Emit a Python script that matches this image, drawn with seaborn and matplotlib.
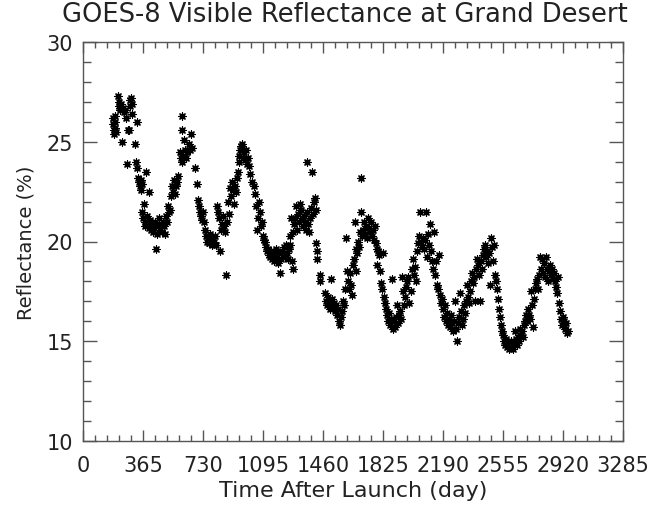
import pandas as pd
import matplotlib
matplotlib.use('Agg')
import matplotlib.pyplot as plt
import seaborn as sns
from matplotlib.ticker import MultipleLocator

# Observations (day after launch, reflectance %) grouped by roughly one year each
year1 = [(182, 26.2), (185, 25.9), (188, 25.6), (190, 25.4), (192, 26.0), (195, 25.7), (197, 26.3), (200, 25.5),
         (213, 27.3), (218, 27.0), (222, 26.8), (225, 26.7), (228, 26.6), (232, 26.9), (237, 25.0), (245, 26.7),
         (250, 26.5), (255, 26.6), (262, 26.2), (268, 23.9), (272, 25.6), (280, 25.6), (285, 27.1), (288, 26.8),
         (292, 27.2), (296, 26.4), (300, 26.9), (316, 24.9), (322, 24.0), (328, 26.0), (330, 23.7), (335, 23.2),
         (340, 23.0), (345, 22.8), (350, 23.1), (355, 22.6), (358, 22.9), (383, 23.5), (401, 22.5), (360, 21.5),
         (371, 21.9), (365, 21.2), (375, 21.0), (380, 20.8), (390, 21.3), (395, 21.0), (400, 20.7), (408, 21.1),
         (414, 20.6), (420, 20.9), (425, 20.5), (432, 20.7), (438, 21.0), (444, 19.6), (450, 20.4), (456, 20.8),
         (462, 21.2), (468, 20.6), (475, 20.9), (481, 20.5), (487, 21.0), (493, 20.8), (500, 20.4), (505, 21.3),
         (510, 21.0), (517, 21.8), (523, 21.5), (529, 21.6), (535, 22.3), (541, 22.8)]
year2 = [(546, 22.5), (554, 23.1), (560, 22.4), (566, 22.8), (572, 23.0), (578, 23.3), (590, 24.5), (596, 24.2),
         (600, 26.3), (602, 25.6), (605, 24.0), (610, 24.3), (614, 25.1), (620, 24.6), (627, 24.2), (633, 24.5),
         (645, 24.9), (651, 24.6), (657, 25.4), (663, 24.7), (681, 23.7), (693, 22.9), (700, 22.1), (706, 21.8),
         (712, 21.5), (718, 21.3), (724, 21.1), (730, 21.5), (736, 21.0), (742, 20.6), (748, 20.3), (754, 20.0),
         (760, 20.2), (766, 19.9), (773, 20.4), (779, 20.1), (785, 19.8), (791, 20.2), (797, 20.0), (803, 20.3),
         (809, 19.8), (815, 21.8), (820, 21.5), (825, 21.2), (833, 19.5), (840, 20.6), (846, 20.9), (852, 21.3),
         (858, 20.8), (864, 20.5), (870, 18.3), (876, 21.0), (882, 22.0), (888, 21.4), (894, 22.7)]
year3 = [(900, 22.3), (906, 23.0), (912, 22.6), (918, 21.9), (925, 22.8), (930, 22.5), (937, 23.2), (943, 23.5),
         (946, 24.0), (950, 24.3), (955, 24.6), (960, 24.8), (965, 24.9), (970, 24.7), (975, 24.2), (980, 24.5),
         (985, 24.1), (990, 24.6), (995, 23.9), (1004, 24.2), (1010, 23.8), (1016, 23.4), (1028, 23.0), (1040, 22.8),
         (1046, 22.4), (1052, 21.8), (1058, 20.6), (1064, 21.2), (1070, 22.0), (1077, 21.5), (1083, 20.8), (1089, 21.0),
         (1095, 20.3), (1101, 20.1), (1107, 20.0), (1113, 19.7), (1119, 19.5), (1125, 19.6), (1131, 19.3), (1138, 19.2),
         (1144, 19.5), (1150, 19.1), (1156, 19.4), (1162, 19.0), (1168, 19.3), (1174, 19.6), (1180, 19.2), (1186, 18.9),
         (1192, 19.4), (1198, 18.4), (1205, 19.1), (1211, 19.5), (1217, 19.3), (1223, 19.7), (1229, 19.2), (1235, 19.8),
         (1241, 19.4), (1247, 19.1), (1253, 19.6), (1259, 20.3), (1262, 19.8)]
year4 = [(1265, 21.2), (1271, 19.0), (1275, 18.6), (1280, 20.5), (1285, 20.9), (1290, 21.2), (1296, 21.8), (1302, 20.6),
         (1308, 21.4), (1314, 21.0), (1320, 21.9), (1326, 21.6), (1332, 21.2), (1338, 20.8), (1345, 21.3), (1350, 21.0),
         (1357, 20.6), (1363, 24.0), (1365, 21.5), (1370, 20.9), (1375, 20.5), (1381, 21.2), (1387, 21.7), (1393, 23.5),
         (1400, 21.4), (1405, 22.0), (1411, 22.2), (1415, 21.6), (1420, 19.9), (1423, 19.5), (1426, 19.1), (1440, 18.3),
         (1443, 18.0), (1472, 17.4), (1478, 17.0), (1484, 16.8), (1490, 17.2), (1496, 16.9), (1502, 16.6), (1509, 18.1),
         (1515, 17.1), (1520, 16.7), (1527, 16.9), (1533, 16.5), (1539, 16.8), (1545, 16.3), (1551, 16.6), (1557, 16.0),
         (1563, 15.8), (1570, 16.2), (1576, 16.5), (1582, 17.0), (1588, 16.8), (1594, 17.6), (1600, 20.2), (1606, 18.5),
         (1612, 18.0), (1618, 17.6)]
year5 = [(1624, 18.4), (1630, 17.8), (1636, 17.3), (1642, 18.8), (1648, 19.1), (1655, 21.0), (1658, 19.6), (1662, 18.5),
         (1667, 19.4), (1672, 20.0), (1678, 19.7), (1685, 20.5), (1691, 23.2), (1694, 21.5), (1697, 20.3), (1703, 20.6),
         (1709, 21.0), (1715, 20.4), (1721, 20.8), (1727, 20.2), (1734, 21.2), (1740, 20.7), (1746, 20.5), (1752, 21.0),
         (1758, 20.3), (1764, 20.6), (1770, 20.1), (1776, 20.8), (1782, 19.9), (1788, 19.6), (1791, 18.8), (1797, 19.5),
         (1803, 19.3), (1807, 18.5), (1812, 17.9), (1818, 17.6), (1825, 19.4), (1831, 17.2), (1837, 16.9), (1843, 16.6),
         (1849, 16.3), (1855, 16.0), (1861, 16.4), (1867, 15.8), (1873, 16.1), (1880, 18.1), (1886, 15.6), (1892, 16.0),
         (1898, 15.7), (1904, 16.2), (1910, 16.8), (1916, 15.9), (1922, 16.3), (1928, 16.5), (1934, 16.1), (1940, 18.2),
         (1946, 17.5), (1952, 16.8), (1959, 17.2), (1965, 17.7), (1971, 18.0), (1977, 18.2), (1983, 16.9)]
year6 = [(1995, 17.5), (2001, 18.6), (2007, 19.1), (2013, 18.3), (2020, 18.7), (2026, 18.0), (2032, 19.5), (2038, 19.9),
         (2044, 20.3), (2050, 21.5), (2056, 20.0), (2062, 19.7), (2068, 20.2), (2074, 19.6), (2080, 20.1), (2086, 21.5),
         (2093, 19.2), (2099, 20.4), (2105, 19.8), (2111, 20.9), (2117, 19.5), (2123, 19.0), (2129, 18.6), (2135, 20.5),
         (2141, 18.3), (2147, 19.0), (2153, 17.8), (2160, 17.6), (2166, 19.3), (2172, 17.3), (2178, 16.9), (2184, 17.1),
         (2190, 16.6), (2196, 16.2), (2202, 16.8), (2208, 16.0), (2214, 16.4), (2220, 15.8), (2226, 16.1), (2232, 15.7),
         (2238, 16.3), (2245, 15.9), (2251, 15.5), (2257, 16.0), (2263, 17.0), (2269, 15.6), (2275, 15.0), (2281, 15.9),
         (2287, 16.2), (2293, 17.4), (2299, 16.5), (2305, 15.8), (2312, 16.1), (2318, 16.8), (2324, 16.4), (2330, 17.0),
         (2336, 17.8), (2342, 17.2), (2348, 16.9)]
year7 = [(2354, 17.5), (2360, 18.0), (2366, 18.4), (2372, 17.9), (2378, 18.2), (2385, 17.0), (2391, 18.6), (2397, 19.1),
         (2403, 18.8), (2409, 18.3), (2415, 17.0), (2421, 19.0), (2427, 18.6), (2433, 19.3), (2439, 19.6), (2445, 19.8),
         (2451, 19.2), (2457, 19.5), (2464, 18.9), (2470, 19.4), (2476, 17.8), (2480, 20.2), (2486, 19.7), (2494, 19.0),
         (2500, 19.8), (2506, 18.3), (2512, 18.0), (2518, 17.6), (2524, 17.1), (2530, 16.6), (2537, 16.2), (2543, 15.8),
         (2549, 15.5), (2555, 15.3), (2561, 15.0), (2567, 14.8), (2573, 15.1), (2579, 14.7), (2585, 14.9), (2591, 14.6),
         (2597, 14.8), (2603, 15.0), (2610, 14.7), (2616, 14.6), (2622, 14.9), (2628, 15.5), (2634, 15.1), (2640, 14.8),
         (2646, 15.2), (2652, 15.0), (2658, 15.6), (2664, 15.3), (2671, 15.5), (2677, 15.2), (2683, 15.8), (2689, 16.0),
         (2695, 16.3), (2701, 16.0), (2707, 16.6), (2713, 16.3), (2719, 16.1)]
year8 = [(2725, 17.5), (2731, 16.8), (2737, 15.7), (2743, 17.1), (2750, 17.6), (2756, 17.9), (2762, 18.1), (2768, 17.6),
         (2774, 18.3), (2780, 19.2), (2786, 18.6), (2792, 19.1), (2798, 18.4), (2804, 18.9), (2810, 18.2), (2817, 19.2),
         (2823, 18.6), (2829, 18.0), (2835, 18.5), (2841, 18.8), (2847, 18.3), (2853, 18.6), (2859, 18.1), (2865, 18.4),
         (2871, 18.0), (2877, 17.7), (2883, 17.4), (2890, 18.2), (2896, 16.9), (2902, 16.5), (2908, 16.1), (2914, 15.8),
         (2920, 16.2), (2926, 16.0), (2932, 15.6), (2938, 15.9), (2944, 15.4), (2950, 15.5)]

x_ticks = [0, 365, 730, 1095, 1460, 1825, 2190, 2555, 2920, 3285]
y_ticks = [10, 15, 20, 25, 30]

df = pd.DataFrame(year1 + year2 + year3 + year4 + year5 + year6 + year7 + year8,
                  columns=['day', 'reflectance'])

sns.set_style('ticks')
plt.rcParams['font.family'] = ['DejaVu Sans']

fig = plt.figure(figsize=(6.58, 5.06), dpi=100)
ax = fig.add_axes([83 / 658, 1 - 442 / 506, 540 / 658, 399 / 506])

sns.scatterplot(data=df, x='day', y='reflectance', ax=ax, marker=(8, 2, 0),
                s=26, color='black', linewidth=0.9, edgecolor='black')

ax.set_xlim(0, 3285)
ax.set_ylim(10, 30)
ax.set_xticks(x_ticks)
ax.set_yticks(y_ticks)
ax.xaxis.set_minor_locator(MultipleLocator(73))
ax.yaxis.set_minor_locator(MultipleLocator(1))

for side in ax.spines.values():
    side.set_color('#555555')
    side.set_linewidth(1.0)

ax.tick_params(axis='both', which='both', direction='in', top=True, right=True,
               color='#555555', labelcolor='#222222', labelsize=15)
ax.tick_params(axis='x', which='major', length=8, width=1, pad=10)
ax.tick_params(axis='x', which='minor', length=4, width=1)
ax.tick_params(axis='y', which='major', length=10, width=1, pad=7)
ax.tick_params(axis='y', which='minor', length=6, width=1)

ax.set_xlabel('Time After Launch (day)', fontsize=16, color='#222222', labelpad=4)
ax.set_ylabel('Reflectance (%)', fontsize=14, color='#222222', labelpad=8)
fig.text(345 / 658, 1 - 15 / 506, 'GOES-8 Visible Reflectance at Grand Desert',
         fontsize=18.5, color='#222222', ha='center', va='center')

fig.savefig('out.png', dpi=100)
